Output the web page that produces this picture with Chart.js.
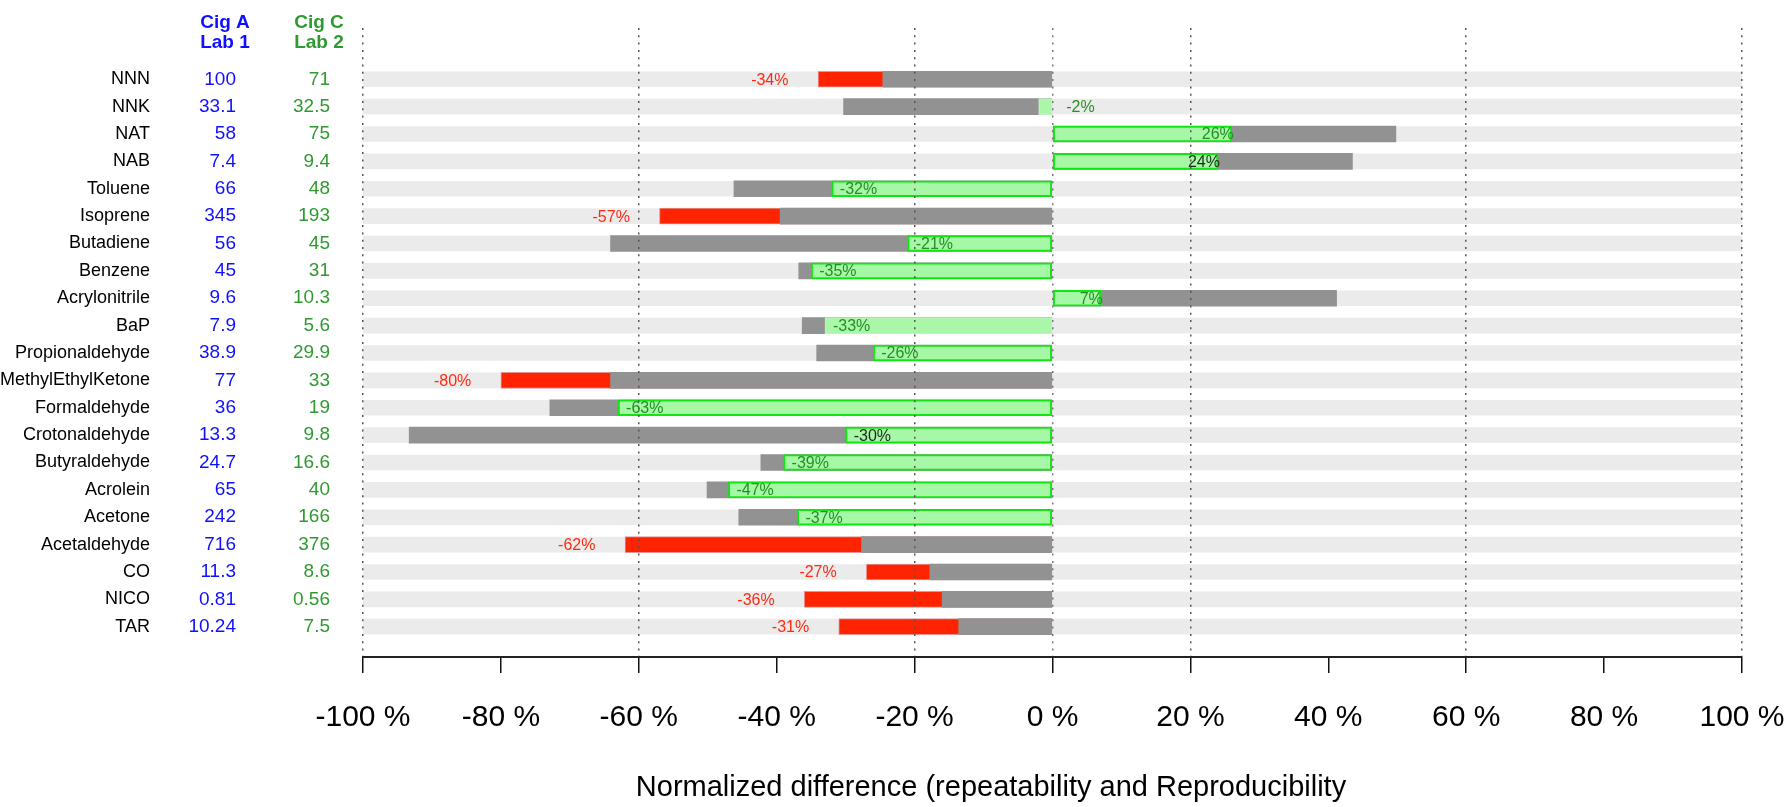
<!DOCTYPE html>
<html>
<head>
<meta charset="utf-8">
<script src="https://cdn.jsdelivr.net/npm/chart.js@4/dist/chart.umd.min.js"></script>
<style>
  html, body { margin: 0; padding: 0; background: #ffffff; }
  #wrap { width: 1785px; height: 807px; position: relative; }
</style>
</head>
<body>
<div id="wrap"><canvas id="chart"></canvas></div>
<script>
// Compounds, top to bottom
const compounds = ['NNN', 'NNK', 'NAT', 'NAB', 'Toluene', 'Isoprene', 'Butadiene', 'Benzene',
  'Acrylonitrile', 'BaP', 'Propionaldehyde', 'MethylEthylKetone', 'Formaldehyde', 'Crotonaldehyde',
  'Butyraldehyde', 'Acrolein', 'Acetone', 'Acetaldehyde', 'CO', 'NICO', 'TAR'];

// Measured yields for each lab
const cigALab1 = [100, 33.1, 58, 7.4, 66, 345, 56, 45, 9.6, 7.9, 38.9, 77, 36, 13.3, 24.7, 65, 242, 716, 11.3, 0.81, 10.24];
const cigCLab2 = [71, 32.5, 75, 9.4, 48, 193, 45, 31, 10.3, 5.6, 29.9, 33, 19, 9.8, 16.6, 40, 166, 376, 8.6, 0.56, 7.5];

// Normalized difference between the labs (%)
const normDiff = [-34, -2, 26, 24, -32, -57, -21, -35, 7, -33, -26, -80, -63, -30, -39, -47, -37, -62, -27, -36, -31];

// Repeatability / reproducibility limit (%)
const reproLimit = [-24.6, -30.3, 49.8, 43.5, -46.2, -39.5, -64.1, -36.8, 41.2, -36.3, -34.2, -64.1, -72.9, -93.3,
  -42.3, -50.1, -45.5, -27.7, -17.8, -16.0, -13.6];

// Rows drawn without the bright outline, rows whose label is printed dark
const paleRows = ['NNK', 'BaP'];
const darkLabelRows = ['NAB', 'Crotonaldehyde'];

// Axis ticks
const xTicks = [-100, -80, -60, -40, -20, 0, 20, 40, 60, 80, 100];
const dottedAt = [-100, -60, -20, 0, 20, 60, 100];

const FONT = '"Liberation Sans", Arial, Helvetica, sans-serif';
const BLUE = '#1010ff';
const GREEN = '#2f9a2f';
const RED = '#ff2a12';

const exceeds = normDiff.map((d, i) => Math.abs(d) > Math.abs(reproLimit[i]));
const rowIdx = compounds.map((_, i) => i);

const bandData = rowIdx.map(i => ({ x: [-100, 100], y: i }));
const redData = rowIdx.filter(i => exceeds[i]).map(i => ({ x: [0, normDiff[i]], y: i }));
const grayData = rowIdx.map(i => ({ x: [0, reproLimit[i]], y: i }));
const greenData = rowIdx.filter(i => !exceeds[i]).map(i => ({ x: [0, normDiff[i]], y: i }));

const isPale = ctx => ctx.raw && paleRows.includes(compounds[ctx.raw.y]);

const annotate = {
  id: 'annotate',
  afterDraw(chart) {
    const { ctx, scales: { x, y } } = chart;
    ctx.save();

    // column headers
    ctx.font = 'bold 19px ' + FONT;
    ctx.textAlign = 'center';
    ctx.textBaseline = 'alphabetic';
    ctx.fillStyle = BLUE;
    ctx.fillText('Cig A', 225, 28);
    ctx.fillText('Lab 1', 225, 48);
    ctx.fillStyle = GREEN;
    ctx.fillText('Cig C', 319, 28);
    ctx.fillText('Lab 2', 319, 48);

    compounds.forEach((name, i) => {
      const yy = y.getPixelForValue(i);
      ctx.textBaseline = 'middle';

      // yield columns
      ctx.font = '19px ' + FONT;
      ctx.textAlign = 'right';
      ctx.fillStyle = BLUE;
      ctx.fillText(String(cigALab1[i]), 236, yy);
      ctx.fillStyle = GREEN;
      ctx.fillText(String(cigCLab2[i]), 330, yy);

      // difference label
      const d = normDiff[i];
      const label = d + '%';
      ctx.font = '16px ' + FONT;
      if (exceeds[i]) {
        ctx.fillStyle = RED;
        ctx.textAlign = 'center';
        ctx.fillText(label, x.getPixelForValue(d - 7), yy + 1);
      } else {
        ctx.fillStyle = darkLabelRows.includes(name) ? '#1c2a1c' : '#239023';
        if (Math.abs(d) < 5) {
          ctx.textAlign = 'left';
          ctx.fillText(label, x.getPixelForValue(2), yy + 1);
        } else if (d < 0) {
          ctx.textAlign = 'left';
          ctx.fillText(label, x.getPixelForValue(d) + 8, yy + 1);
        } else {
          ctx.textAlign = 'right';
          ctx.fillText(label, x.getPixelForValue(d) + 2, yy + 1);
        }
      }
    });

    // axis title
    ctx.font = '29px ' + FONT;
    ctx.fillStyle = '#000';
    ctx.textAlign = 'center';
    ctx.textBaseline = 'alphabetic';
    ctx.fillText('Normalized difference (repeatability and Reproducibility', 991, 796);
    ctx.restore();
  }
};

new Chart(document.getElementById('chart'), {
  type: 'bar',
  data: {
    datasets: [
      { data: bandData, backgroundColor: '#ebebeb', borderWidth: 0, barThickness: 15, order: 4 },
      { data: redData, backgroundColor: '#ff2400', borderColor: '#e99292', borderWidth: 1,
        borderSkipped: false, barThickness: 16, order: 3 },
      { data: grayData, backgroundColor: '#929292', borderWidth: 0, barThickness: 16, order: 2 },
      { data: greenData,
        backgroundColor: ctx => isPale(ctx) ? '#aaf7aa' : '#a6f8a6',
        borderColor: ctx => isPale(ctx) ? '#c8eec8' : '#12e612',
        borderWidth: ctx => isPale(ctx) ? 1 : 2,
        borderSkipped: false, barThickness: 16, order: 1 }
    ]
  },
  options: {
    indexAxis: 'y',
    responsive: true,
    maintainAspectRatio: false,
    devicePixelRatio: 1,
    animation: false,
    datasets: { bar: { grouped: false } },
    layout: { padding: { top: 28, right: 43, left: 0, bottom: 0 } },
    plugins: { legend: { display: false }, tooltip: { enabled: false } },
    scales: {
      x: {
        type: 'linear',
        bounds: 'data',
        min: -100,
        max: 100,
        afterBuildTicks: s => { s.ticks = xTicks.map(v => ({ value: v })); },
        afterFit: s => { s.height = 150; s.paddingLeft = 0; s.paddingRight = 0; },
        ticks: {
          autoSkip: false,
          maxRotation: 0,
          padding: 27,
          color: '#000',
          font: { family: FONT, size: 30 },
          callback: v => v + ' %'
        },
        grid: {
          z: 1,
          color: c => dottedAt.includes(c.tick && c.tick.value) ? (c.tick.value === 0 ? '#7a7a7a' : '#555555') : 'rgba(0,0,0,0)',
          lineWidth: 1.5,
          drawTicks: true,
          tickLength: 16,
          tickColor: '#111',
          tickWidth: 1.5,
          tickBorderDash: []
        },
        border: { display: true, color: '#222', width: 2, dash: [2, 5.3], z: 2 }
      },
      y: {
        type: 'linear',
        bounds: 'data',
        offset: false,
        reverse: true,
        min: -1.874,
        max: 21.107,
        afterBuildTicks: s => { s.ticks = compounds.map((_, i) => ({ value: i })); },
        afterFit: s => { s.width = 363; s.paddingTop = 0; s.paddingBottom = 0; },
        ticks: {
          autoSkip: false,
          padding: 213,
          color: '#000',
          font: { family: FONT, size: 18 },
          callback: v => compounds[Math.round(v)]
        },
        grid: { display: false, drawTicks: false, tickLength: 0 },
        border: { display: false }
      }
    }
  },
  plugins: [annotate]
});
</script>
</body>
</html>
